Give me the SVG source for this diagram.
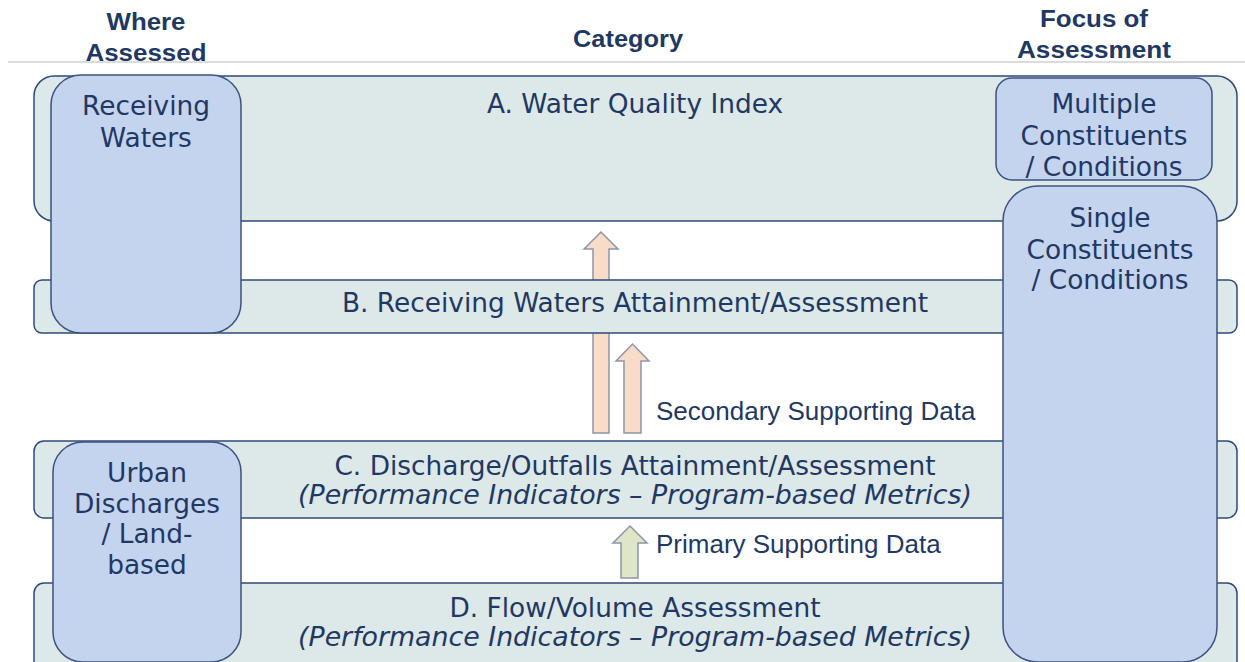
<svg xmlns="http://www.w3.org/2000/svg" width="1245" height="662" viewBox="0 0 1245 662">
<style>
.band{fill:#dde8e8;stroke:#2e4a7a;stroke-width:1.5}
.box{fill:#c4d3ee;stroke:#3d5280;stroke-width:1.5}
.t{font-family:"DejaVu Sans",Verdana,sans-serif;font-size:26.4px;fill:#1f3864;text-anchor:middle}
.it{font-style:italic;font-size:26.8px}
.h{font-family:"Liberation Sans",Arial,sans-serif;font-weight:bold;font-size:23px;fill:#1f3864;text-anchor:middle}
.lab{font-family:"Liberation Sans",Arial,sans-serif;font-size:26px;fill:#1f3864}
.arS{fill:#f9dcc8;stroke:#8c96ab;stroke-width:1.5}
.arG{fill:#dfe6c8;stroke:#8c96ab;stroke-width:1.5}
</style>
<rect width="1245" height="662" fill="#ffffff"/>
<g id="headers">
<line x1="8" y1="62" x2="1245" y2="62" stroke="#d0d0d0" stroke-width="1.5"/>
<text class="h" x="146" y="30" textLength="79" lengthAdjust="spacingAndGlyphs">Where</text>
<text class="h" x="146" y="61" textLength="121" lengthAdjust="spacingAndGlyphs">Assessed</text>
<text class="h" x="628" y="47" textLength="110" lengthAdjust="spacingAndGlyphs">Category</text>
<text class="h" x="1094" y="27" textLength="108" lengthAdjust="spacingAndGlyphs">Focus of</text>
<text class="h" x="1094" y="58" textLength="154" lengthAdjust="spacingAndGlyphs">Assessment</text>
</g>
<g id="connectors">
<polygon class="arS" points="593,433 609,433 609,249 618,249 601,232 584,249 593,249"/>
<polygon class="arS" points="624,433 641,433 641,361 649,361 632.5,344 616,361 624,361"/>
<polygon class="arG" points="621,578 638,578 638,543 647,543 630,526 613,543 621,543"/>
</g>
<g id="bandA">
<rect class="band" x="34" y="76" width="1203" height="145" rx="20"/>
<text class="t" x="635" y="113">A. Water Quality Index</text>
</g>
<g id="bandB">
<rect class="band" x="34" y="280" width="1203" height="53" rx="8"/>
<text class="t" x="635" y="312">B. Receiving Waters Attainment/Assessment</text>
</g>
<g id="bandC">
<rect class="band" x="34" y="441" width="1203" height="77" rx="10"/>
<text class="t" x="635" y="475">C. Discharge/Outfalls Attainment/Assessment</text>
<text class="t it" x="635" y="504">(Performance Indicators – Program-based Metrics)</text>
</g>
<g id="bandD">
<rect class="band" x="34" y="583" width="1203" height="90" rx="10"/>
<text class="t" x="635" y="617">D. Flow/Volume Assessment</text>
<text class="t it" x="635" y="646">(Performance Indicators – Program-based Metrics)</text>
</g>
<g id="labels">
<text class="lab" x="656" y="420">Secondary Supporting Data</text>
<text class="lab" x="656" y="553">Primary Supporting Data</text>
</g>
<g id="receiving">
<rect class="box" x="51" y="75" width="190" height="258" rx="30"/>
<text class="t" x="146" y="115">Receiving</text>
<text class="t" x="146" y="147">Waters</text>
</g>
<g id="urban">
<rect class="box" x="53" y="442" width="188" height="220" rx="30"/>
<text class="t" x="147" y="482">Urban</text>
<text class="t" x="147" y="513">Discharges</text>
<text class="t" x="147" y="543">/ Land-</text>
<text class="t" x="147" y="574">based</text>
</g>
<g id="multiple">
<rect class="box" x="996" y="78" width="216" height="102" rx="16"/>
<text class="t" x="1104" y="113">Multiple</text>
<text class="t" x="1104" y="145">Constituents</text>
<text class="t" x="1104" y="176">/ Conditions</text>
</g>
<g id="single">
<rect class="box" x="1003" y="186" width="214" height="476" rx="35"/>
<text class="t" x="1110" y="227">Single</text>
<text class="t" x="1110" y="259">Constituents</text>
<text class="t" x="1110" y="289">/ Conditions</text>
</g>
</svg>
